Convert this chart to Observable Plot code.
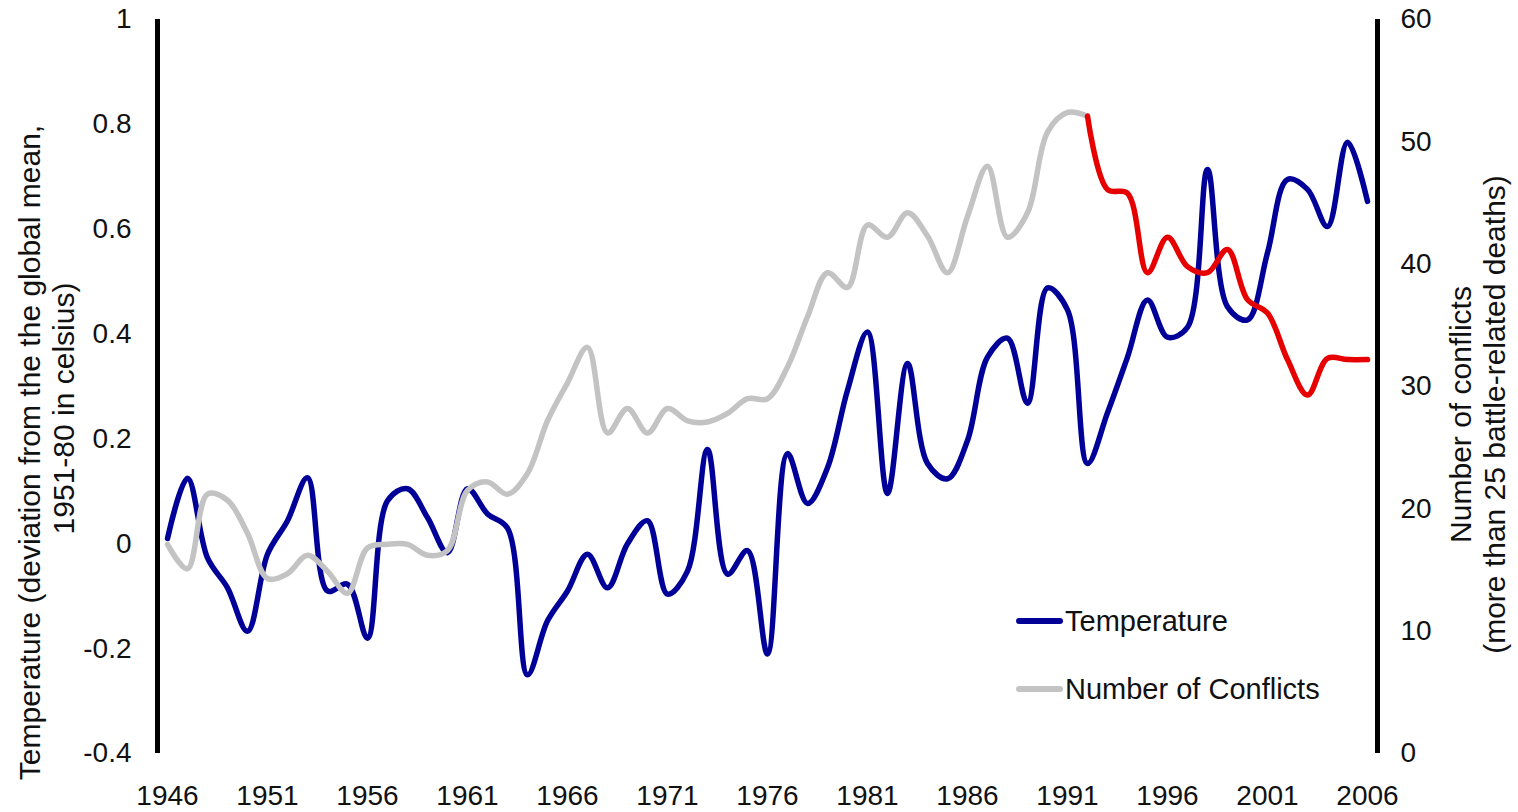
<!DOCTYPE html>
<html>
<head>
<meta charset="utf-8">
<script src="https://cdn.jsdelivr.net/npm/d3@7"></script>
<script src="https://cdn.jsdelivr.net/npm/@observablehq/plot@0.6"></script>
<style>
  html, body { margin: 0; padding: 0; background: #fff; }
  #wrap { position: relative; width: 1518px; height: 812px; font-family: "Liberation Sans", Arial, sans-serif; }
  #legend { position: absolute; left: 1016px; top: 600px; font-size: 29px; color: #111; }
  .item { display: flex; align-items: center; height: 42px; margin-bottom: 26px; }
  .swatch { width: 47px; height: 6px; border-radius: 3px; margin-right: 2px; }
</style>
</head>
<body>
<div id="wrap"></div>
<script>
// ---- Data ----
const years = [1946,1947,1948,1949,1950,1951,1952,1953,1954,1955,1956,1957,1958,1959,1960,
  1961,1962,1963,1964,1965,1966,1967,1968,1969,1970,1971,1972,1973,1974,1975,1976,1977,1978,1979,1980,
  1981,1982,1983,1984,1985,1986,1987,1988,1989,1990,1991,1992,1993,1994,1995,1996,1997,1998,1999,2000,
  2001,2002,2003,2004,2005,2006];

const temperature = [0.01,0.125,-0.027,-0.084,-0.167,-0.02,0.044,0.126,-0.09,-0.077,-0.18,0.082,0.105,0.05,-0.017,
  0.105,0.057,0.03,-0.25,-0.147,-0.09,-0.02,-0.084,0.0,0.044,-0.096,-0.052,0.18,-0.058,-0.013,-0.21,0.172,0.077,0.145,0.293,
  0.404,0.096,0.344,0.153,0.124,0.197,0.356,0.392,0.268,0.488,0.446,0.153,0.25,0.356,0.465,0.394,0.413,0.714,0.452,0.427,
  0.555,0.695,0.676,0.605,0.766,0.653];

const conflicts = [17.1,15.1,21.2,20.7,18.0,14.3,14.7,16.2,14.9,13.1,16.8,17.1,17.1,16.2,16.6,
  21.5,22.2,21.2,22.9,27.2,30.3,33.2,26.2,28.2,26.2,28.2,27.2,27.1,27.8,29.0,29.0,31.6,35.7,39.3,38.1,
  43.2,42.2,44.2,42.3,39.3,43.9,48.0,42.2,44.2,50.8,52.4,52.1,46.1,45.8,39.3,42.2,39.8,39.3,41.2,37.1,
  36.0,32.2,29.3,32.3,32.2,32.2];

const highlightFromYear = 1992; // conflicts drawn in red from this year on

const xTickYears = [1946,1951,1956,1961,1966,1971,1976,1981,1986,1991,1996,2001,2006];
const tempDomain = [-0.4, 1];
const tempTicks = [-0.4,-0.2,0,0.2,0.4,0.6,0.8,1];
const tempTickLabels = ["-0.4","-0.2","0","0.2","0.4","0.6","0.8","1"];
const conflictDomain = [0, 60];
const conflictTicks = [0,10,20,30,40,50,60];

const leftTitleLines = ["Temperature (deviation from the the global mean,", "1951-80 in celsius)"];
const rightTitle = "Number of conflicts\n(more than 25 battle-related deaths)";
const legendLabels = ["Temperature", "Number of Conflicts"];

// ---- Build ----
const BLUE = "#000099", GRAY = "#c3c3c3", RED = "#e60000";
const toT = c => tempDomain[0] + (c - conflictDomain[0]) / (conflictDomain[1] - conflictDomain[0]) * (tempDomain[1] - tempDomain[0]);

const rows = years.map((year, i) => ({year, temp: temperature[i], conf: conflicts[i]}));
const grayRows = rows.filter(d => d.year <= highlightFromYear);
const redRows = rows.filter(d => d.year >= highlightFromYear);

const chart = Plot.plot({
  width: 1518,
  height: 812,
  marginLeft: 157,
  marginRight: 141,
  marginTop: 19,
  marginBottom: 59,
  style: {fontFamily: '"Liberation Sans", Arial, sans-serif', fontSize: "28px", color: "#111", background: "#fff"},
  x: {domain: [years[0] - 0.5, years[years.length - 1] + 0.5]},
  y: {domain: tempDomain},
  marks: [
    Plot.line(rows, {x: "year", y: "temp", stroke: BLUE, strokeWidth: 5.5, curve: "catmull-rom"}),
    Plot.line(grayRows, {x: "year", y: d => toT(d.conf), stroke: GRAY, strokeWidth: 5.5, curve: "catmull-rom"}),
    Plot.line(redRows, {x: "year", y: d => toT(d.conf), stroke: RED, strokeWidth: 5.5, curve: "catmull-rom"}),
    Plot.ruleX([years[0] - 0.5, years[years.length - 1] + 0.5], {stroke: "#000", strokeWidth: 5}),
    Plot.axisX({ticks: xTickYears, tickFormat: d => String(d), tickSize: 0, tickPadding: 32, label: null, fontSize: 28}),
    Plot.axisY({anchor: "left", ticks: tempTicks, tickFormat: d => tempTickLabels[tempTicks.indexOf(d)], tickSize: 0, tickPadding: 26, label: null, fontSize: 28}),
    Plot.axisY(conflictTicks.map(toT), {anchor: "right", tickFormat: (d, i) => String(conflictTicks[i]), tickSize: 0, tickPadding: 23, label: null, fontSize: 28}),
    Plot.text([leftTitleLines[0]], {frameAnchor: "left", rotate: -90, dx: -127, dy: 66, fontSize: 30, textAnchor: "middle", fill: "#111"}),
    Plot.text([leftTitleLines[1]], {frameAnchor: "left", rotate: -90, dx: -93, dy: 22, fontSize: 30, textAnchor: "middle", fill: "#111"}),
    Plot.text([rightTitle], {frameAnchor: "right", rotate: -90, dx: 100, dy: 28, fontSize: 30, lineHeight: 1.12, textAnchor: "middle", fill: "#111"})
  ]
});

const wrap = document.getElementById("wrap");
wrap.appendChild(chart);

const legend = document.createElement("div");
legend.id = "legend";
[[legendLabels[0], BLUE], [legendLabels[1], GRAY]].forEach(([label, color]) => {
  const item = document.createElement("div");
  item.className = "item";
  const sw = document.createElement("span");
  sw.className = "swatch";
  sw.style.background = color;
  const tx = document.createElement("span");
  tx.textContent = label;
  item.appendChild(sw);
  item.appendChild(tx);
  legend.appendChild(item);
});
wrap.appendChild(legend);
</script>
</body>
</html>
